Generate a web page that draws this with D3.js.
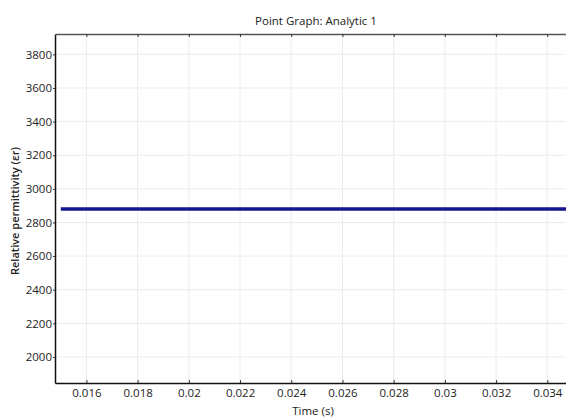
<!DOCTYPE html>
<html>
<head>
<meta charset="utf-8">
<script src="https://cdn.jsdelivr.net/npm/d3@7"></script>
<style>
  body { margin: 0; background: #fff; }
  text { font-family: "Open Sans", "Noto Sans", sans-serif; fill: #222; }
</style>
</head>
<body>
<div id="chart-area"></div>
<script>
// data
var times = [0.015, 0.035];
var permittivity = [2880, 2880];
var xTicks = [0.016, 0.018, 0.02, 0.022, 0.024, 0.026, 0.028, 0.03, 0.032, 0.034];
var xTickLabels = ["0.016", "0.018", "0.02", "0.022", "0.024", "0.026", "0.028", "0.03", "0.032", "0.034"];
var yTicks = [2000, 2200, 2400, 2600, 2800, 3000, 3200, 3400, 3600, 3800];

var W = 566, H = 417;
var margin = {top: 34, right: 0, bottom: 34, left: 55};
var w = W - margin.left - margin.right;
var h = H - margin.top - margin.bottom;

var svg = d3.select("#chart-area").append("svg")
	.attr("width", W)
	.attr("height", H);

var g = svg.append("g")
	.attr("transform", "translate(" + margin.left + "," + margin.top + ")");

var x = d3.scaleLinear()
	.domain([0.014773, 0.034731])
	.range([0, w]);

var y = d3.scaleLinear()
	.domain([1845, 3921])
	.range([h, 0]);

// grid
g.append("g").selectAll("line").data(xTicks).enter().append("line")
	.attr("x1", d => x(d)).attr("x2", d => x(d))
	.attr("y1", 0).attr("y2", h)
	.attr("stroke", "#ececec").attr("stroke-width", 1);

g.append("g").selectAll("line").data(yTicks).enter().append("line")
	.attr("x1", 0).attr("x2", w)
	.attr("y1", d => y(d)).attr("y2", d => y(d))
	.attr("stroke", "#ececec").attr("stroke-width", 1);

// axes
var bottomAxis = d3.axisBottom(x)
	.tickValues(xTicks)
	.tickFormat((d, i) => xTickLabels[i])
	.tickSizeInner(-3)
	.tickSizeOuter(0)
	.tickPadding(6);

var leftAxis = d3.axisLeft(y)
	.tickValues(yTicks)
	.tickFormat(d3.format("d"))
	.tickSizeInner(2)
	.tickSizeOuter(0)
	.tickPadding(1);

var topAxis = d3.axisTop(x)
	.tickValues(xTicks)
	.tickFormat("")
	.tickSizeInner(-3)
	.tickSizeOuter(0);

var xg = g.append("g")
	.attr("transform", "translate(0," + h + ")")
	.call(bottomAxis);

var yg = g.append("g").call(leftAxis);
var tg = g.append("g").call(topAxis);

[xg, yg, tg].forEach(a => {
	a.select(".domain").attr("stroke", "#111").attr("stroke-width", 1.5);
	a.selectAll(".tick line").attr("stroke", "#333");
	a.selectAll(".tick text").attr("font-size", "11.5px").attr("fill", "#111")
		.attr("font-family", "'Open Sans', sans-serif");
});
tg.select(".domain").attr("stroke", "#555");

// series
var pts = times.map((t, i) => ({t: t, v: permittivity[i]}));
var line = d3.line().x(d => x(d.t)).y(d => y(d.v));

g.append("defs").append("clipPath").attr("id", "clip")
	.append("rect").attr("width", w).attr("height", h);

g.append("path")
	.datum(pts)
	.attr("clip-path", "url(#clip)")
	.attr("d", line)
	.attr("fill", "none")
	.attr("stroke", "#15158f")
	.attr("stroke-width", 3.5);

// labels
svg.append("text")
	.attr("x", 316)
	.attr("y", 25)
	.attr("text-anchor", "middle")
	.attr("font-size", "11.5px")
	.text("Point Graph: Analytic 1");

svg.append("text")
	.attr("x", 313)
	.attr("y", 415)
	.attr("text-anchor", "middle")
	.attr("font-size", "11.5px")
	.text("Time (s)");

svg.append("text")
	.attr("transform", "translate(19,211) rotate(-90)")
	.attr("text-anchor", "middle")
	.attr("font-size", "11px")
	.attr("font-weight", 600)
	.text("Relative permittivity (εr)");
</script>
</body>
</html>
